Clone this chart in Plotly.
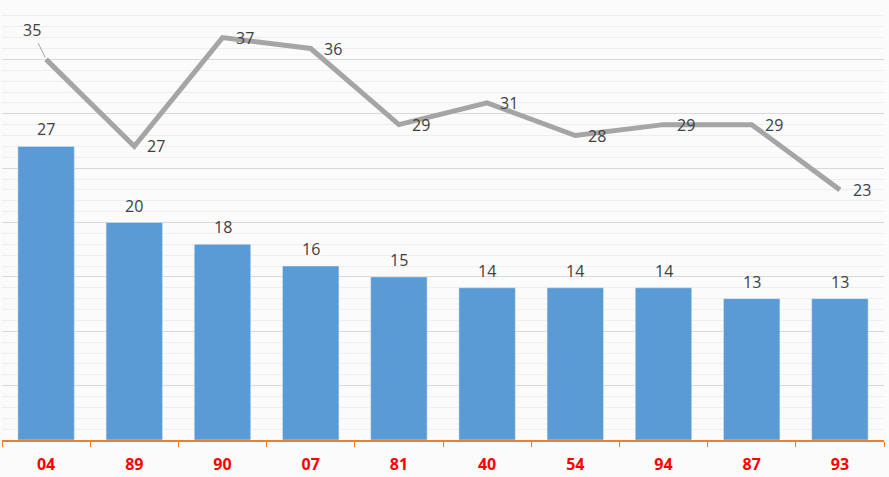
import plotly.graph_objects as go

categories = ["04", "89", "90", "07", "81", "40", "54", "94", "87", "93"]
bar_values = [27, 20, 18, 16, 15, 14, 14, 14, 13, 13]
line_values = [35, 27, 37, 36, 29, 31, 28, 29, 29, 23]

label_font = dict(size=16, color="#404040", family="Open Sans")

fig = go.Figure()
fig.add_trace(go.Bar(
    x=categories, y=bar_values, marker_color="#5b9bd5", width=0.64,
    showlegend=False,
))
fig.add_trace(go.Scatter(
    x=categories, y=line_values, mode="lines",
    line=dict(color="#a5a5a5", width=5), showlegend=False,
))

for i, v in enumerate(bar_values):
    fig.add_annotation(x=i, y=v, text=str(v), showarrow=False,
                       xanchor="center", yanchor="bottom", yshift=4,
                       font=label_font)

for i, v in enumerate(line_values):
    if i == 0:
        fig.add_annotation(x=i, y=v, text=str(v), showarrow=True, arrowhead=0,
                           arrowwidth=1, arrowcolor="#a5a5a5", ax=-14, ay=-29,
                           standoff=2, font=label_font)
    else:
        fig.add_annotation(x=i, y=v, text=str(v), showarrow=False,
                           xanchor="left", yanchor="middle", xshift=11,
                           yshift=0, font=label_font)

fig.update_layout(
    width=889, height=477,
    margin=dict(l=2, r=5, t=5, b=35),
    paper_bgcolor="#fbfbfb", plot_bgcolor="#fbfbfb",
    font=dict(family="Open Sans"),
)
fig.update_yaxes(
    range=[0, 40], dtick=5, showticklabels=False, showgrid=True,
    gridcolor="#d9d9d9", gridwidth=1, zeroline=False,
    minor=dict(dtick=1, showgrid=True, gridcolor="#eeeeee", gridwidth=1),
)
fig.update_xaxes(
    type="category", categoryorder="array", categoryarray=categories,
    range=[-0.5, len(categories) - 0.5],
    showline=True, linecolor="#ed7d31", linewidth=1.5,
    ticks="outside", tickson="boundaries", ticklen=5, tickcolor="#ed7d31",
    tickfont=dict(size=16, color="#ff0000", family="Open Sans"),
    ticklabelstandoff=9,
    tickvals=categories, ticktext=[f"<b>{c}</b>" for c in categories],
)

fig.write_html("out.html")
